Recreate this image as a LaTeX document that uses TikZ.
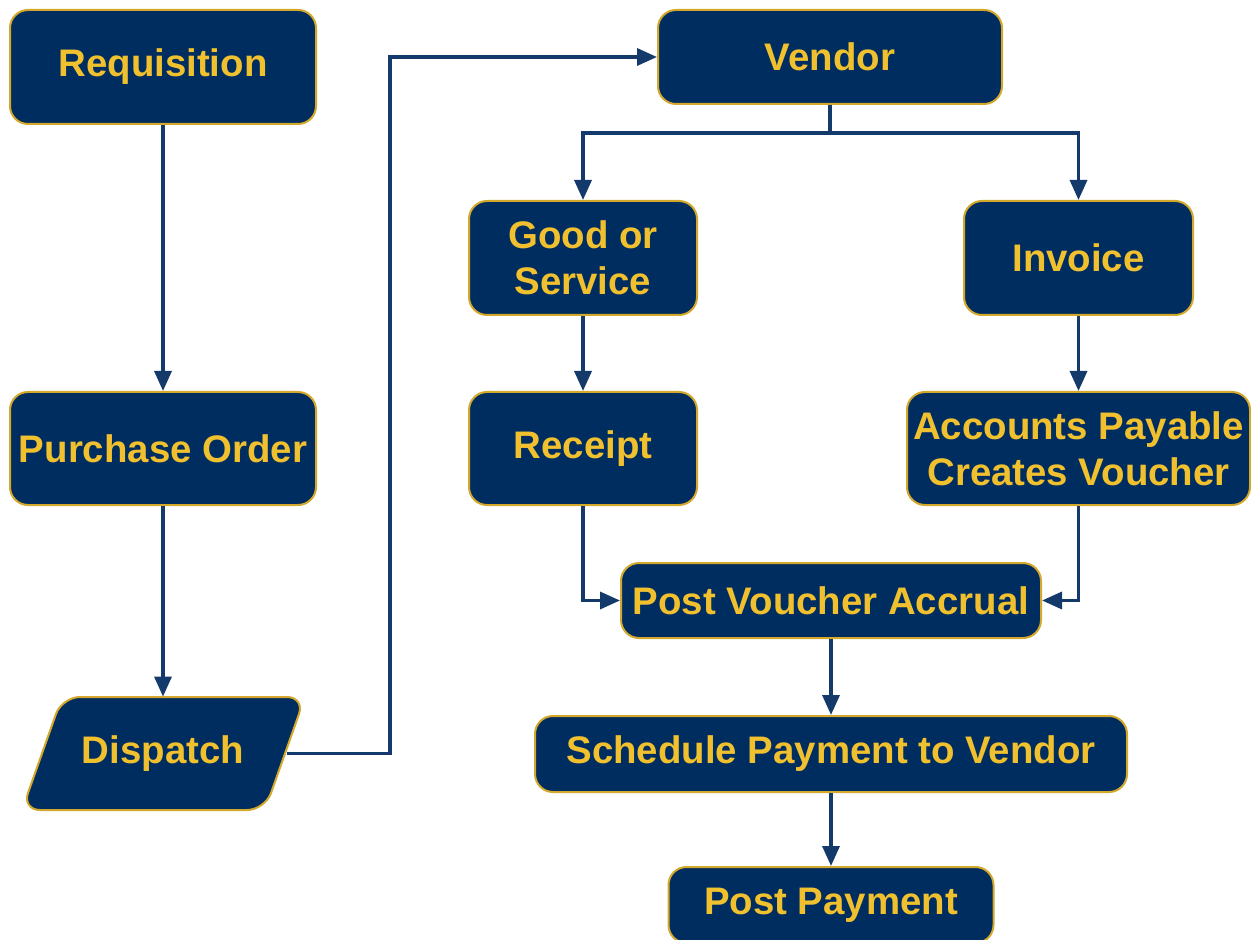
\documentclass[tikz,border=0pt]{standalone}
\usepackage{fontspec}
\setmainfont{Liberation Sans}
\usetikzlibrary{arrows.meta}
\definecolor{navy}{HTML}{002D60}
\definecolor{gold}{HTML}{F0C02E}
\definecolor{edge}{HTML}{D4A82A}
\definecolor{linecol}{HTML}{143A6C}
\tikzset{
  boxfill/.style={draw=edge, line width=1pt, fill=navy, rounded corners=9pt},
  boxtext/.style={text=gold, font=\fontsize{19.2}{22.8}\selectfont\bfseries, align=center,
    inner sep=0pt},
  box/.style={boxfill, boxtext},
  conn/.style={draw=linecol, line width=1.7pt, -{Triangle[length=10pt,width=8.5pt]}},
}
\begin{document}
\begin{tikzpicture}[x=0.5pt,y=-0.5pt]
\useasboundingbox (0,0) rectangle (1251,940);
\node[box, minimum width=153pt, minimum height=57pt] (req) at (163,67) {Requisition};
\node[box, minimum width=153pt, minimum height=56.5pt] (po) at (163,448.5) {Purchase Order};
\draw[boxfill] (22,810) -- (62,697) -- (305,697) -- (265,810) -- cycle;
\node[boxtext, minimum width=124pt, minimum height=56.5pt] (disp) at (163,753.5) {Dispatch};
\node[box, minimum width=172pt, minimum height=47pt] (vendor) at (830,57) {Vendor};
\node[box, minimum width=114pt, minimum height=57pt] (good) at (583,258) {Good or\\Service};
\node[box, minimum width=114.5pt, minimum height=57pt] (inv) at (1078.5,258) {Invoice};
\node[box, minimum width=114pt, minimum height=56.5pt] (rec) at (583,448.5) {Receipt};
\node[box, minimum width=171.5pt, minimum height=56.5pt] (ap) at (1078.5,448.5) {Accounts Payable\\Creates Voucher};
\node[box, minimum width=210pt, minimum height=37.5pt] (pva) at (831,600.5) {Post Voucher Accrual};
\node[box, minimum width=296pt, minimum height=38pt] (sched) at (831,754) {Schedule Payment to Vendor};
\node[box, minimum width=162.5pt, minimum height=38pt] (pay) at (831,905) {Post Payment};
\coordinate (bend) at (390,753.5);
\draw[conn] (req) -- (po);
\draw[conn] (po) -- (disp);
\draw[conn] (disp.east) -- (bend) |- (vendor.west);
\draw[conn] (vendor.south) -- ++(0,28) -| (good.north);
\draw[conn] (vendor.south) -- ++(0,28) -| (inv.north);
\draw[conn] (good) -- (rec);
\draw[conn] (inv) -- (ap);
\draw[conn] (rec.south) |- (pva.west);
\draw[conn] (ap.south) |- (pva.east);
\draw[conn] (pva) -- (sched);
\draw[conn] (sched) -- (pay);
\end{tikzpicture}
\end{document}
